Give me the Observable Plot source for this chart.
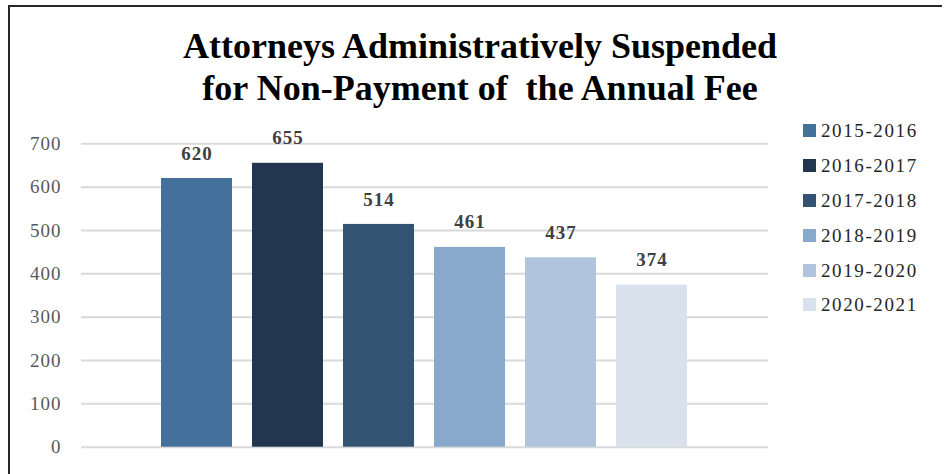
<!DOCTYPE html>
<html>
<head>
<meta charset="utf-8">
<script src="https://cdn.jsdelivr.net/npm/d3@7"></script>
<script src="https://cdn.jsdelivr.net/npm/@observablehq/plot@0.6"></script>
<style>
  html, body { margin: 0; padding: 0; background: #fff; }
  body { width: 951px; height: 474px; position: relative; overflow: hidden; font-family: "Liberation Serif", "Times New Roman", serif; }
  #frame { position: absolute; left: 8px; top: 5px; width: 934px; height: 480px; border-top: 2px solid #262626; border-left: 2.5px solid #262626; box-sizing: border-box; }
  #title { position: absolute; left: 0; top: 25px; width: 960px; text-align: center; font-family: "Liberation Serif", "Times New Roman", serif; font-weight: bold; font-size: 36px; line-height: 42px; color: #000; white-space: pre; }
  #chart { position: absolute; left: 0; top: 120px; }
  #chart svg text { letter-spacing: 1px; }
  #legend { position: absolute; left: 803px; top: 0; }
  .row { position: absolute; left: 0; white-space: nowrap; font-family: "Liberation Serif", "Times New Roman", serif; font-size: 19px; line-height: 20px; color: #262626; letter-spacing: 1.6px; }
  .sw { display: inline-block; width: 13px; height: 13px; margin-right: 5px; vertical-align: baseline; }
</style>
</head>
<body>
<div id="frame"></div>
<div id="title"></div>
<div id="chart"></div>
<div id="legend"></div>
<script>
const titleLines = ["Attorneys Administratively Suspended", "for Non-Payment of  the Annual Fee"];
const years = ["2015-2016", "2016-2017", "2017-2018", "2018-2019", "2019-2020", "2020-2021"];
const counts = [620, 655, 514, 461, 437, 374];
const colors = ["#44709c", "#23364f", "#325372", "#88a9cb", "#b0c5dd", "#d8e1ec"];
const yTicks = [0, 100, 200, 300, 400, 500, 600, 700];

const data = years.map((year, i) => ({year, count: counts[i]}));

document.getElementById("title").textContent = titleLines.join("\n");

const plot = Plot.plot({
  width: 780,
  height: 354,
  marginLeft: 81,
  marginRight: 12,
  marginTop: 23.3,
  marginBottom: 27.3,
  style: {fontFamily: "Liberation Serif", fontSize: "19px", background: "transparent"},
  x: {type: "band", domain: years, paddingInner: 0.217, paddingOuter: 0.859, axis: null},
  y: {domain: [0, 700], axis: null},
  color: {domain: years, range: colors},
  marks: [
    Plot.ruleY(yTicks, {stroke: "#d9d9d9", strokeWidth: 2}),
    Plot.axisY({ticks: yTicks, label: null, tickSize: 0, tickPadding: 20, color: "#595959", fontSize: 19, tickFormat: d => String(d)}),
    Plot.barY(data, {x: "year", y: "count", fill: "year"}),
    Plot.text(data, {x: "year", y: "count", text: d => String(d.count), dy: -25, fill: "#404040", fontWeight: "bold", fontSize: 19})
  ]
});
document.getElementById("chart").appendChild(plot);

const color = plot.scale("color");
const legend = document.getElementById("legend");
years.forEach((y, i) => {
  const row = document.createElement("div");
  row.className = "row";
  row.style.top = (120.9 + i * 34.9) + "px";
  const sw = document.createElement("span");
  sw.className = "sw";
  sw.style.background = color.range[i];
  row.appendChild(sw);
  row.appendChild(document.createTextNode(y));
  legend.appendChild(row);
});
</script>
</body>
</html>
